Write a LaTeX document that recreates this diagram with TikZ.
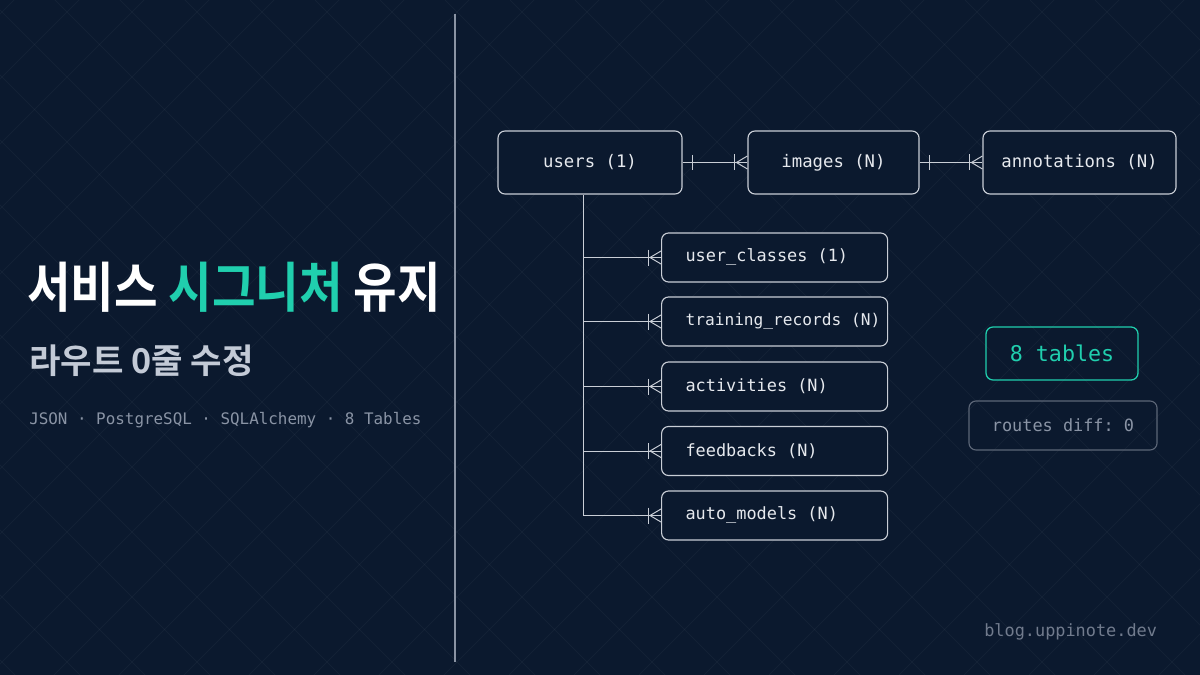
\documentclass[tikz,border=0pt]{standalone}
\usepackage{fontspec}
\setmonofont{DejaVu Sans Mono}
\newfontfamily\krtitle{Noto Sans CJK KR Bold}[FakeStretch=0.875]
\newfontfamily\krsub{Noto Sans CJK KR Bold}
\usepackage{tikz}
\usetikzlibrary{positioning}

\definecolor{bgnavy}{HTML}{0B192E}
\definecolor{boxline}{HTML}{C9CED6}
\definecolor{boxtext}{HTML}{E6E9EE}
\definecolor{accent}{HTML}{20CFAE}
\definecolor{subgray}{HTML}{C3CAD6}
\definecolor{metagray}{HTML}{8A94A5}
\definecolor{dimline}{HTML}{5C6677}
\definecolor{divline}{HTML}{8A93A3}

\newcommand{\lefttext}[1]{\makebox[4.45cm][l]{#1}}

\tikzset{
  table/.style={draw=boxline, line width=0.8pt, rounded corners=5pt,
    fill=bgnavy, text=boxtext, inner sep=0pt, minimum height=1.575cm,
    font=\ttfamily\fontsize{12.3}{14}\selectfont},
  childtable/.style={table, anchor=west, minimum height=1.225cm,
    minimum width=5.65cm, inner xsep=0.6cm,
    font=\ttfamily\fontsize{12}{14}\selectfont},
  connline/.style={draw=boxline, line width=0.7pt},
  oneend/.pic={\draw[connline] (10,-7.5) -- (10,7.5);},
  manyend/.pic={\draw[connline] (-13,-8) -- (-13,8);
    \draw[connline] (0,-6.5) -- (-11,0) -- (0,6.5);}
}

\begin{document}
\begin{tikzpicture}[x=0.025cm, y=-0.025cm]
  \def\gap{65}

  % Background ---------------------------------------------------------------
  \fill[bgnavy] (0,0) rectangle (1200,675);
  \useasboundingbox (0,0) rectangle (1200,675);
  \begin{scope}
    \clip (0,0) rectangle (1200,675);
    \foreach \k in {-11,...,30} {
      \draw[white, opacity=0.035, line width=0.7pt]
        (55+\k*\gap,0) -- ++(675,675);
      \draw[white, opacity=0.035, line width=0.7pt]
        (14+\k*\gap,0) -- ++(-675,675);
    }
  \end{scope}

  % Divider ------------------------------------------------------------------
  \draw[divline, line width=1.1pt] (455,14) -- (455,662);

  % Left column text ---------------------------------------------------------
  \node[anchor=west, inner sep=0pt, text=white,
        font=\krtitle\fontsize{38.5}{42}\selectfont] (title) at (27,287)
    {서비스 \textcolor{accent}{시그니처} 유지};
  \node[anchor=west, inner sep=0pt, text=subgray,
        font=\krsub\fontsize{24.3}{28}\selectfont] (subtitle) at (29,361)
    {라우트 0줄 수정};
  \node[anchor=west, inner sep=0pt, text=metagray,
        font=\ttfamily\fontsize{11.3}{13}\selectfont] (stack) at (29,420)
    {JSON · PostgreSQL · SQLAlchemy · 8 Tables};

  % Top row of tables --------------------------------------------------------
  \node[table, minimum width=4.6cm] (users) at (590,162.5) {users (1)};
  \node[table, minimum width=4.275cm] (images) at (833.5,162.5) {images (N)};
  \node[table, minimum width=4.825cm] (annot) at (1079.5,162.5)
    {annotations (N)};

  \draw[connline] (users.east) -- (images.west);
  \pic at (users.east) {oneend};
  \pic at (images.west) {manyend};
  \draw[connline] (images.east) -- (annot.west);
  \pic at (images.east) {oneend};
  \pic at (annot.west) {manyend};

  % Child tables hanging off users -------------------------------------------
  \node[childtable] (uclass) at (661,257.5) {\lefttext{user\_classes (1)}};
  \node[childtable, font=\ttfamily\fontsize{11.5}{14}\selectfont] (train)
    at (661,321.5) {\lefttext{training\_records (N)}};
  \node[childtable] (activ)  at (661,386.5) {\lefttext{activities (N)}};
  \node[childtable] (feedb)  at (661,451)   {\lefttext{feedbacks (N)}};
  \node[childtable] (automd) at (661,515.5) {\lefttext{auto\_models (N)}};

  \coordinate (trunk) at ([xshift=-0.175cm]users.south);
  \foreach \t in {uclass, train, activ, feedb, automd} {
    \draw[connline] (\t.west) -| (trunk);
    \pic at (\t.west) {manyend};
  }

  % Summary badges -----------------------------------------------------------
  \node[draw=accent, line width=0.9pt, rounded corners=5pt, text=accent,
        minimum width=3.8cm, minimum height=1.325cm, inner sep=0pt,
        font=\ttfamily\fontsize{15.4}{18}\selectfont] (count) at (1062,353.5)
    {8 tables};
  \node[draw=dimline, line width=0.8pt, rounded corners=5pt, text=metagray,
        minimum width=4.7cm, minimum height=1.225cm, inner sep=0pt,
        font=\ttfamily\fontsize{12}{14}\selectfont] (diff) at (1063,425.5)
    {routes diff: 0};

  % Footer -------------------------------------------------------------------
  \node[anchor=west, inner sep=0pt, text=metagray!80!bgnavy,
        font=\ttfamily\fontsize{12}{14}\selectfont] (blog) at (984,632)
    {blog.uppinote.dev};
\end{tikzpicture}
\end{document}
